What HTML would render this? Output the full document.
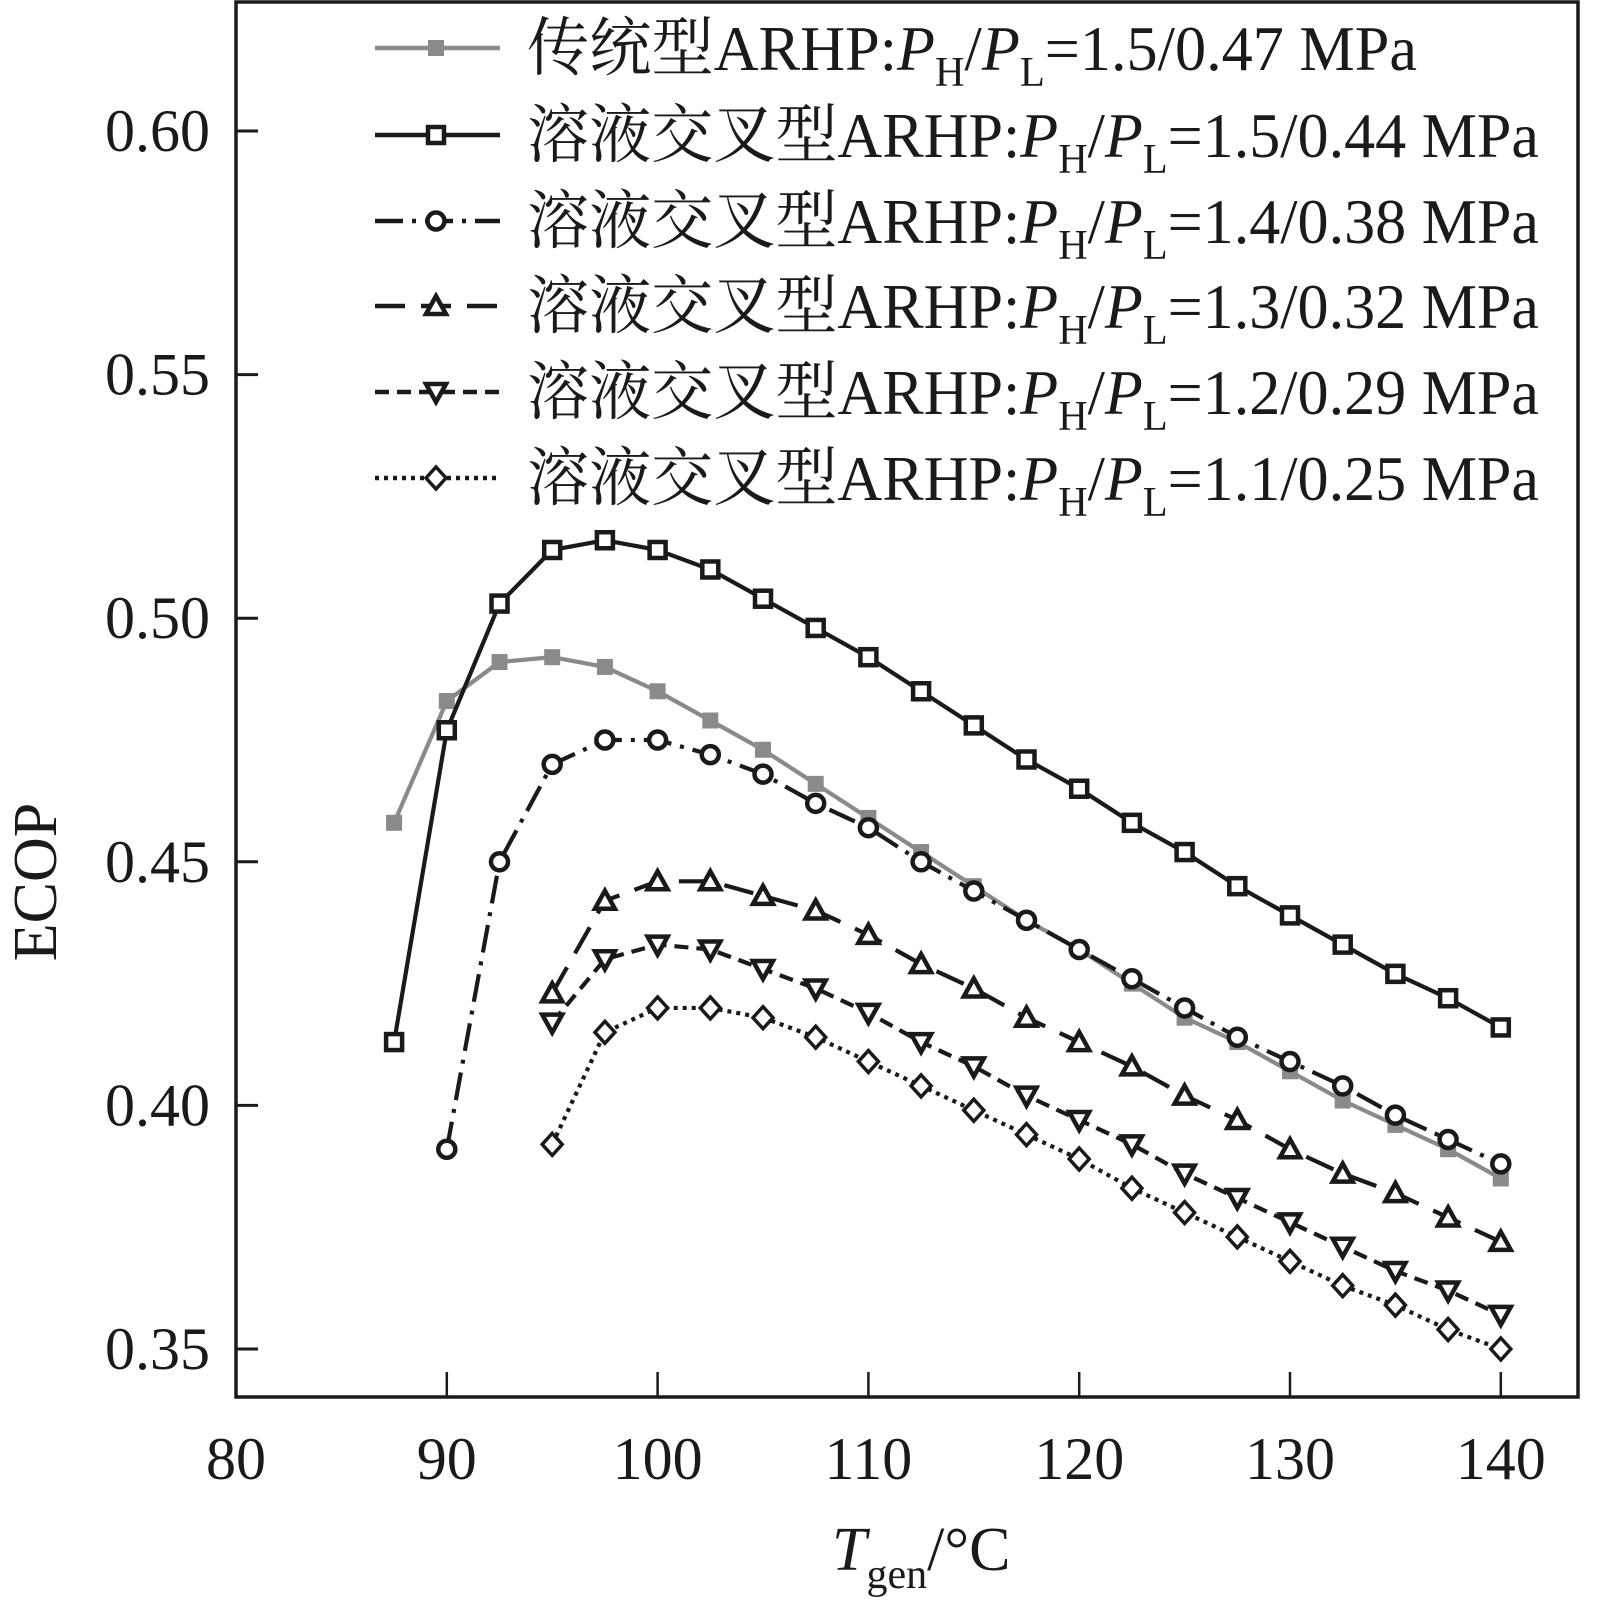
<!DOCTYPE html>
<html><head><meta charset="utf-8"><style>
html,body{margin:0;padding:0;background:#fff}
svg{display:block}
text{font-family:"Liberation Serif","Noto Serif CJK SC",serif;fill:#1a1a1a}
</style></head><body>
<svg id="chart" width="1609" height="1602" viewBox="0 0 1609 1602" xmlns="http://www.w3.org/2000/svg">
<g id="axes"></g>
<g id="series"></g>
<g id="legend"></g>
</svg>
<script>
const xCats = [87.5,90,92.5,95,97.5,100,102.5,105,107.5,110,112.5,115,117.5,120,122.5,125,127.5,130,132.5,135,137.5,140];
const grayVals   = [0.458,0.483,0.491,0.492,0.490,0.485,0.479,0.473,0.466,0.459,0.452,0.445,0.438,0.432,0.425,0.418,0.413,0.407,0.401,0.396,0.391,0.385];
const squareVals = [0.413,0.477,0.503,0.514,0.516,0.514,0.510,0.504,0.498,0.492,0.485,0.478,0.471,0.465,0.458,0.452,0.445,0.439,0.433,0.427,0.422,0.416];
const circleVals = [null,0.391,0.450,0.470,0.475,0.475,0.472,0.468,0.462,0.457,0.450,0.444,0.438,0.432,0.426,0.420,0.414,0.409,0.404,0.398,0.393,0.388];
const triUpVals  = [null,null,null,0.423,0.442,0.446,0.446,0.443,0.440,0.435,0.429,0.424,0.418,0.413,0.408,0.402,0.397,0.391,0.386,0.382,0.377,0.372];
const triDnVals  = [null,null,null,0.417,0.430,0.433,0.432,0.428,0.424,0.419,0.413,0.408,0.402,0.397,0.392,0.386,0.381,0.376,0.371,0.366,0.362,0.357];
const diaVals    = [null,null,null,0.392,0.415,0.420,0.420,0.418,0.414,0.409,0.404,0.399,0.394,0.389,0.383,0.378,0.373,0.368,0.363,0.359,0.354,0.350];
const xTicks = [80,90,100,110,120,130,140];
const yTicks = [0.35,0.40,0.45,0.50,0.55,0.60];
const yTickLabels = ["0.35","0.40","0.45","0.50","0.55","0.60"];
const legendPressures = ["1.5/0.47","1.5/0.44","1.4/0.38","1.3/0.32","1.2/0.29","1.1/0.25"];

const NS="http://www.w3.org/2000/svg";
const X0=236,X1=1578,Y0=2,Y1=1397;
const xs=v=>236+(v-80)*21.08;
const ys=v=>131+(0.60-v)*4872;
function mk(tag,attrs,parent){const e=document.createElementNS(NS,tag);for(const k in attrs)e.setAttribute(k,attrs[k]);parent.appendChild(e);return e;}
const axes=document.getElementById('axes');
const frame=mk('path',{d:`M${X0},${Y0} H${X1} V${Y1} H${X0} Z`,fill:'none',stroke:'#1a1a1a','stroke-width':3.5},axes);


xTicks.forEach(t=>{
  const l=mk('line',{x1:xs(t),x2:xs(t),y1:Y1,y2:Y1-25,stroke:'#1a1a1a','stroke-width':2.5},axes);
  
  
  const tx=mk('text',{x:xs(t),y:1479,'font-size':60,'text-anchor':'middle'},axes);
  tx.textContent=t;
  
  
});
yTicks.forEach((t,i)=>{
  const l=mk('line',{x1:X0,x2:X0+22,y1:ys(t),y2:ys(t),stroke:'#1a1a1a','stroke-width':3},axes);
  
  
  const tx=mk('text',{x:210,y:ys(t)+20,'font-size':60,'text-anchor':'end'},axes);
  tx.textContent=yTickLabels[i];
  
  
});
const yt=mk('text',{x:0,y:0,'font-size':62,'text-anchor':'middle',transform:'translate(56,882) rotate(-90)'},axes);
yt.textContent='ECOP';


const xt=mk('text',{x:832,y:1570,'font-size':62},axes);
xt.innerHTML='<tspan font-style="italic">T</tspan><tspan font-size="42" dy="18">gen</tspan><tspan dy="-18">/°C</tspan>';



const seriesDefs=[
 {vals:grayVals,color:'#8a8a8a',dash:'',marker:'fsquare',name:'series-conventional'},
 {vals:squareVals,color:'#1a1a1a',dash:'',marker:'square',name:'series-1.5-0.44'},
 {vals:circleVals,color:'#1a1a1a',dash:'28 9 4 9',marker:'circle',name:'series-1.4-0.38'},
 {vals:triUpVals,color:'#1a1a1a',dash:'30 16',marker:'triup',name:'series-1.3-0.32'},
 {vals:triDnVals,color:'#1a1a1a',dash:'14 8',marker:'tridn',name:'series-1.2-0.29'},
 {vals:diaVals,color:'#1a1a1a',dash:'4 5',marker:'diamond',name:'series-1.1-0.25'}
];
function marker(type,x,y,color,parent){
  let e;const sw=4.5,r=8;
  if(type==='fsquare')e=mk('rect',{x:x-8,y:y-8,width:16,height:16,fill:color},parent);
  else if(type==='square')e=mk('rect',{x:x-r,y:y-r,width:2*r,height:2*r,fill:'#fff',stroke:color,'stroke-width':sw},parent);
  else if(type==='circle')e=mk('circle',{cx:x,cy:y,r:8.5,fill:'#fff',stroke:color,'stroke-width':sw},parent);
  else if(type==='triup')e=mk('polygon',{points:`${x},${y-10} ${x+10},${y+8} ${x-10},${y+8}`,fill:'#fff',stroke:color,'stroke-width':sw},parent);
  else if(type==='tridn')e=mk('polygon',{points:`${x},${y+10} ${x+10},${y-8} ${x-10},${y-8}`,fill:'#fff',stroke:color,'stroke-width':sw},parent);
  else e=mk('polygon',{points:`${x},${y-11} ${x+10},${y} ${x},${y+11} ${x-10},${y}`,fill:'#fff',stroke:color,'stroke-width':3.5},parent);
  return e;
}
const sg=document.getElementById('series');
seriesDefs.forEach(s=>{
  const g=mk('g',{},sg);
  
  
  const pts=[];xCats.forEach((c,i)=>{if(s.vals[i]!=null)pts.push([xs(c),ys(s.vals[i])]);});
  const p=mk('polyline',{points:pts.map(q=>q.join(',')).join(' '),fill:'none',stroke:s.color,'stroke-width':4.2,'stroke-dasharray':s.dash},g);
  
  
  pts.forEach(q=>{const m=marker(s.marker,q[0],q[1],s.color,g);
    
    });
});
const lg=document.getElementById('legend');
const rowsY=[48,135,221,306,392,478];
const lens=[890,1012,1012,1012,1012,1012];
seriesDefs.forEach((s,i)=>{
  const g=mk('g',{},lg);
  
  
  const y=rowsY[i];
  const l=mk('line',{x1:375,x2:500,y1:y,y2:y,stroke:s.color,'stroke-width':4.5,'stroke-dasharray':s.dash},g);
  
  
  const m=marker(s.marker,436,y,s.color,g);
  
  
  const t=mk('text',{x:527,y:y+22,'font-size':64,textLength:lens[i],lengthAdjust:'spacingAndGlyphs'},g);
  const pre=i===0?'传统型':'溶液交叉型';
  t.innerHTML=pre+'ARHP:<tspan font-style="italic">P</tspan><tspan font-size="42" dy="16">H</tspan><tspan dy="-16">/</tspan><tspan font-style="italic">P</tspan><tspan font-size="42" dy="16">L</tspan><tspan dy="-16">='+legendPressures[i]+' MPa</tspan>';
  
  
});
</script>
</body></html>
